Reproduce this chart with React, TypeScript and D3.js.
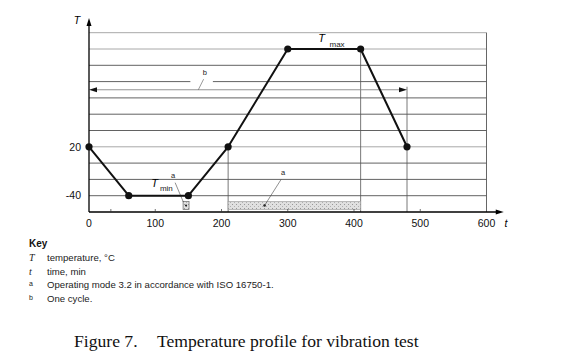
import React from "react";
import * as d3 from "d3";

// ---- data ----
const timeValues = [0, 60, 150, 210, 300, 410, 480];
const tempValues = [20, -40, -40, 20, 140, 140, 20];
const gridTemps = [-40, -20, 0, 20, 40, 60, 80, 100, 120, 140, 160];
const lightGridTemps = [20, 140, 160];
const xTickLabels = [0, 100, 200, 300, 400, 500, 600];
const xMinorTicks = [33, 100, 200, 300, 400, 500];
const yTickLabels = [20, -40];
const cycleRange = [0, 480];
const cycleLevel = 90;
const modeBand = [210, 410];
const modeBox = [142, 151];
const modeTemps = [-47, -57];
const keySymbols = ["T", "t", "a", "b"];
const keyTexts = [
  "temperature, °C",
  "time, min",
  "Operating mode 3.2 in accordance with ISO 16750-1.",
  "One cycle.",
];

const W = 561;
const H = 354;
const sans = "'Liberation Sans', Arial, sans-serif";
const serif = "'Liberation Serif', 'Times New Roman', serif";

export default function App() {
  const x = d3.scaleLinear().domain([0, 600]).range([89, 486.5]);
  const y = d3.scaleLinear().domain([-60, 160]).range([212, 32.7]);
  const line = d3
    .line<number>()
    .x((_, i) => x(timeValues[i]))
    .y((d) => y(d));

  const x0 = x(0);
  const y0 = y(-60);
  const yTop = y(160);
  const axisTipY = y(178);
  const axisTipX = x(626);
  const cy = y(cycleLevel);
  const cx1 = x(cycleRange[0]);
  const cx2 = x(cycleRange[1]);

  const gapL = x(153);
  const gapR = x(187);

  return (
    <svg
      width={W}
      height={H}
      style={{ position: "absolute", left: 0, top: 0, background: "#fff" }}
    >
      <defs>
        <pattern id="hatch" width="4" height="4" patternUnits="userSpaceOnUse">
          <rect width="4" height="4" fill="#e0e0e0" />
          <rect x="0" y="0" width="1" height="1" fill="#999" />
          <rect x="2" y="2" width="1" height="1" fill="#b0b0b0" />
        </pattern>
      </defs>

      {/* grid lines */}
      {gridTemps.map((v) => {
        const light = lightGridTemps.includes(v);
        const stroke = light ? "#a8a8a8" : "#3a3a3a";
        if (v === 100) {
          return (
            <g key={v}>
              <line x1={x0} x2={gapL} y1={y(v)} y2={y(v)} stroke={stroke} strokeWidth={0.8} />
              <line x1={gapR} x2={x(600)} y1={y(v)} y2={y(v)} stroke={stroke} strokeWidth={0.8} />
            </g>
          );
        }
        return (
          <line
            key={v}
            x1={x0}
            x2={x(600)}
            y1={y(v)}
            y2={y(v)}
            stroke={stroke}
            strokeWidth={light ? 1 : 0.8}
          />
        );
      })}

      {/* right frame */}
      <line x1={x(600)} x2={x(600)} y1={yTop} y2={y0} stroke="#555" strokeWidth={0.9} />

      {/* vertical reference lines */}
      <line x1={x(210)} x2={x(210)} y1={y(20)} y2={y0} stroke="#555" strokeWidth={0.8} />
      <line x1={x(410)} x2={x(410)} y1={y(140)} y2={y0} stroke="#555" strokeWidth={0.8} />
      <line x1={cx2} x2={cx2} y1={cy - 3} y2={y0} stroke="#555" strokeWidth={0.8} />

      {/* mode 3.2 band and box */}
      <rect
        x={x(modeBand[0])}
        y={y(modeTemps[0])}
        width={x(modeBand[1]) - x(modeBand[0])}
        height={y(modeTemps[1]) - y(modeTemps[0])}
        fill="url(#hatch)"
        stroke="#999"
        strokeWidth={0.6}
      />
      <rect
        x={x(modeBox[0])}
        y={y(modeTemps[0])}
        width={x(modeBox[1]) - x(modeBox[0])}
        height={y(modeTemps[1]) - y(modeTemps[0])}
        fill="url(#hatch)"
        stroke="#666"
        strokeWidth={0.7}
      />
      <circle cx={x((modeBox[0] + modeBox[1]) / 2)} cy={y((modeTemps[0] + modeTemps[1]) / 2)} r={1.1} fill="#222" />
      <circle cx={x(265)} cy={y((modeTemps[0] + modeTemps[1]) / 2)} r={1.3} fill="#222" />

      {/* a labels & leaders */}
      <text x={x(127)} y={y(-18)} fontFamily={sans} fontSize={7.5} fill="#222" textAnchor="middle">a</text>
      <line x1={x(130)} y1={y(-24)} x2={x(142.5)} y2={y(-48)} stroke="#444" strokeWidth={0.6} />
      <text x={x(293)} y={y(-15)} fontFamily={sans} fontSize={7.5} fill="#222" textAnchor="middle">a</text>
      <line x1={x(290)} y1={y(-20)} x2={x(265)} y2={y(-52)} stroke="#444" strokeWidth={0.6} />

      {/* cycle arrow */}
      <line x1={cx1 + 6} x2={cx2 - 6} y1={cy} y2={cy} stroke="#888" strokeWidth={0.9} />
      <path d={`M${cx1},${cy} L${cx1 + 8},${cy - 2.5} L${cx1 + 8},${cy + 2.5} Z`} fill="#111" />
      <path d={`M${cx2},${cy} L${cx2 - 8},${cy - 2.5} L${cx2 - 8},${cy + 2.5} Z`} fill="#111" />
      <text x={x(175)} y={y(108)} fontFamily={sans} fontSize={7.5} fill="#222" textAnchor="middle">b</text>
      <line x1={x(173)} y1={y(103)} x2={x(165)} y2={y(cycleLevel)} stroke="#555" strokeWidth={0.6} />

      {/* axes */}
      <line x1={x0} x2={x0} y1={y0} y2={axisTipY + 5} stroke="#000" strokeWidth={1.3} />
      <path d={`M${x0},${axisTipY} L${x0 - 2.5},${axisTipY + 8} L${x0 + 2.5},${axisTipY + 8} Z`} fill="#000" />
      <line x1={x0} x2={axisTipX - 5} y1={y0} y2={y0} stroke="#000" strokeWidth={1.3} />
      <path d={`M${axisTipX},${y0} L${axisTipX - 8},${y0 - 2.5} L${axisTipX - 8},${y0 + 2.5} Z`} fill="#000" />

      {xMinorTicks.map((t) => (
        <line key={t} x1={x(t)} x2={x(t)} y1={y0} y2={y0 - 3} stroke="#333" strokeWidth={0.7} />
      ))}

      {xTickLabels.map((t) => (
        <text
          key={t}
          x={x(t)}
          y={y0 + 14.5}
          textAnchor="middle"
          fontFamily={sans}
          fontSize={10.5}
          fill="#111"
        >
          {t}
        </text>
      ))}
      {yTickLabels.map((v) => (
        <text
          key={v}
          x={x0 - 8}
          y={y(v) + 3.7}
          textAnchor="end"
          fontFamily={sans}
          fontSize={10.5}
          fill="#111"
        >
          {v}
        </text>
      ))}

      <text x={77} y={24} fontFamily={sans} fontSize={10.5} fontStyle="italic" textAnchor="middle">T</text>
      <text x={506} y={227} fontFamily={sans} fontSize={10.5} fontStyle="italic" textAnchor="middle">t</text>

      {/* data line */}
      <path d={line(tempValues) || ""} fill="none" stroke="#111" strokeWidth={2} strokeLinejoin="round" />
      {tempValues.map((v, i) => (
        <circle key={i} cx={x(timeValues[i])} cy={y(v)} r={3.6} fill="#111" />
      ))}

      {/* Tmin / Tmax labels */}
      <text x={x(99)} y={y(-29)} fontFamily={sans} fontSize={11} fontStyle="italic" textAnchor="middle">T</text>
      <text x={x(107)} y={y(-34)} fontFamily={sans} fontSize={8} fill="#222">min</text>
      <text x={x(351)} y={y(149)} fontFamily={sans} fontSize={11} fontStyle="italic" textAnchor="middle">T</text>
      <text x={x(363)} y={y(143)} fontFamily={sans} fontSize={8} fill="#222">max</text>

      {/* Key */}
      <text x={29} y={247} fontFamily={sans} fontSize={10} fontWeight="bold" fill="#111">Key</text>
      {keySymbols.map((s, i) => {
        const yy = 261 + i * 13.7;
        const isLetter = i >= 2;
        return (
          <g key={s}>
            <text
              x={29}
              y={isLetter ? yy - 2 : yy}
              fontFamily={isLetter ? sans : serif}
              fontSize={isLetter ? 7 : 10}
              fontStyle={isLetter ? "normal" : "italic"}
              fill="#222"
            >
              {s}
            </text>
            <text x={47} y={yy} fontFamily={sans} fontSize={9.6} fill="#222">
              {keyTexts[i]}
            </text>
          </g>
        );
      })}

      {/* Caption */}
      <text x={74} y={347} fontFamily={serif} fontSize={17.6} fill="#111">
        Figure 7.
      </text>
      <text x={157} y={347} fontFamily={serif} fontSize={17.6} fill="#111">
        Temperature profile for vibration test
      </text>
    </svg>
  );
}
